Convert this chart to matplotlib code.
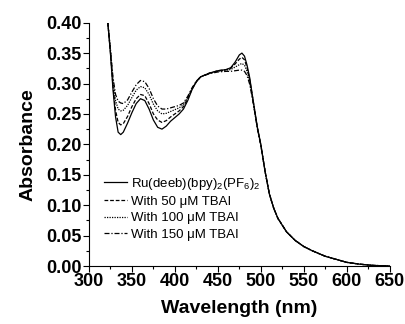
import numpy as np
import matplotlib
matplotlib.use("Agg")
import matplotlib.pyplot as plt
from matplotlib.ticker import MultipleLocator

plt.rcParams['font.family'] = ['Liberation Sans', 'DejaVu Sans']
plt.rcParams['mathtext.fontset'] = 'custom'
plt.rcParams['mathtext.rm'] = 'Liberation Sans'

wavelength = [322, 325, 328, 331, 334, 337, 340, 345, 350, 355, 360, 365, 370, 375,
              380, 385, 390, 395, 400, 405, 410, 415, 420, 425, 430, 440, 450, 460,
              465, 470, 475, 478, 481, 484, 487, 490, 493, 496, 500, 505, 510, 515,
              520, 530, 540, 550, 560, 575, 590, 600, 615, 630, 650]

abs_ru = [0.400, 0.350, 0.290, 0.245, 0.220, 0.216, 0.220, 0.235, 0.252, 0.267, 0.275,
          0.272, 0.258, 0.240, 0.228, 0.225, 0.230, 0.238, 0.244, 0.250, 0.258, 0.272,
          0.290, 0.303, 0.311, 0.317, 0.321, 0.323, 0.326, 0.335, 0.347, 0.350, 0.345,
          0.330, 0.310, 0.282, 0.255, 0.228, 0.200, 0.155, 0.118, 0.095, 0.078, 0.056,
          0.042, 0.032, 0.025, 0.016, 0.010, 0.006, 0.003, 0.001, 0.000]

abs_50 = [0.400, 0.352, 0.296, 0.256, 0.236, 0.232, 0.234, 0.246, 0.262, 0.275, 0.282,
          0.280, 0.267, 0.250, 0.240, 0.236, 0.239, 0.245, 0.250, 0.255, 0.262, 0.275,
          0.291, 0.303, 0.311, 0.317, 0.321, 0.323, 0.325, 0.332, 0.340, 0.343, 0.339,
          0.326, 0.307, 0.281, 0.254, 0.227, 0.199, 0.155, 0.118, 0.095, 0.078, 0.056,
          0.042, 0.032, 0.025, 0.016, 0.010, 0.006, 0.003, 0.001, 0.000]

abs_100 = [0.400, 0.355, 0.305, 0.272, 0.258, 0.255, 0.256, 0.264, 0.277, 0.289, 0.295,
           0.293, 0.282, 0.266, 0.255, 0.250, 0.251, 0.254, 0.257, 0.260, 0.265, 0.277,
           0.292, 0.303, 0.311, 0.317, 0.320, 0.322, 0.323, 0.327, 0.331, 0.333, 0.330,
           0.320, 0.303, 0.279, 0.253, 0.226, 0.199, 0.155, 0.118, 0.095, 0.078, 0.056,
           0.042, 0.032, 0.025, 0.016, 0.010, 0.006, 0.003, 0.001, 0.000]

abs_150 = [0.400, 0.357, 0.310, 0.282, 0.271, 0.268, 0.267, 0.273, 0.286, 0.298, 0.305,
           0.303, 0.292, 0.275, 0.263, 0.258, 0.258, 0.260, 0.262, 0.264, 0.268, 0.279,
           0.293, 0.304, 0.311, 0.316, 0.319, 0.320, 0.320, 0.321, 0.322, 0.322, 0.320,
           0.313, 0.299, 0.277, 0.252, 0.226, 0.198, 0.155, 0.118, 0.095, 0.078, 0.056,
           0.042, 0.032, 0.025, 0.016, 0.010, 0.006, 0.003, 0.001, 0.000]

labels = [r'Ru(deeb)(bpy)$_2$(PF$_6$)$_2$',
          'With 50 \u03bcM TBAI',
          'With 100 \u03bcM TBAI',
          'With 150 \u03bcM TBAI']
series = [abs_ru, abs_50, abs_100, abs_150]
styles = ['-', (0, (3, 1.5)), (0, (1, 1)), (0, (4, 1.5, 1, 1.5))]

x_ticks = [300, 350, 400, 450, 500, 550, 600, 650]
y_ticks = [0.00, 0.05, 0.10, 0.15, 0.20, 0.25, 0.30, 0.35, 0.40]

fig = plt.figure(figsize=(4.06, 3.24), dpi=100)
ax = fig.add_axes([0.219, 0.179, 0.741, 0.751])

for ys, ls, lab in zip(series, styles, labels):
    ax.plot(wavelength, ys, color='black', linestyle=ls, linewidth=0.9, label=lab)

ax.set_xlim(300, 650)
ax.set_ylim(0, 0.40)
ax.set_xticks(x_ticks)
ax.set_yticks(y_ticks)
ax.set_yticklabels([f'{v:.2f}' for v in y_ticks])
ax.xaxis.set_minor_locator(MultipleLocator(25))
ax.yaxis.set_minor_locator(MultipleLocator(0.025))
ax.spines['top'].set_visible(False)
ax.spines['right'].set_visible(False)
for s in ['left', 'bottom']:
    ax.spines[s].set_linewidth(0.8)
ax.tick_params(which='major', direction='out', length=4, width=0.8, labelsize=13, pad=1)
ax.tick_params(which='minor', direction='out', length=2.5, width=0.8)
for t in ax.get_xticklabels() + ax.get_yticklabels():
    t.set_fontweight('bold')

ax.set_xlabel('Wavelength (nm)', fontsize=14, fontweight='bold', labelpad=7)
ax.set_ylabel('Absorbance', fontsize=14, fontweight='bold', labelpad=7)

leg = ax.legend(loc='lower left', bbox_to_anchor=(0.02, 0.065), frameon=False,
                fontsize=9.5, handlelength=1.7, handletextpad=0.3, labelspacing=0.32,
                borderpad=0.2)

fig.savefig('out.png', dpi=100)
